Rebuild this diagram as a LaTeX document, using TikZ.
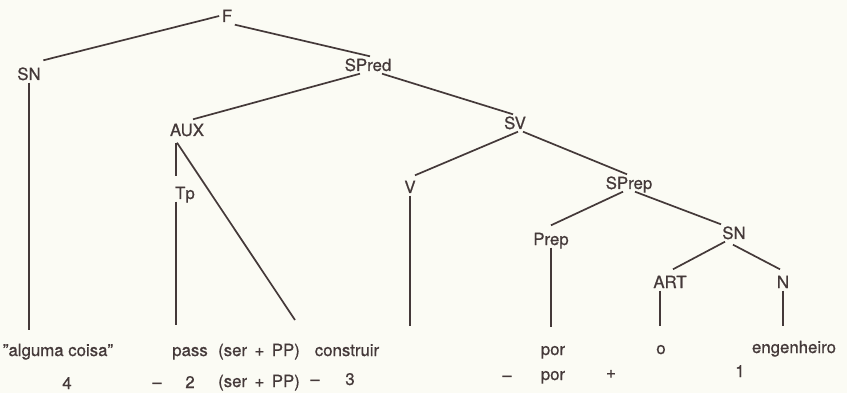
\documentclass[tikz,border=0pt]{standalone}
\usepackage{fontspec}
\setmainfont{TeX Gyre Heros}[FakeBold=0.7]
\definecolor{ink}{HTML}{443939}
\definecolor{paper}{HTML}{FBFBF4}
\begin{document}
\begin{tikzpicture}[x=1pt,y=-1pt,
  font=\fontsize{16.8}{20}\selectfont, text=ink,
  lab/.style={inner sep=2.5pt, text height=12pt, text depth=0pt, anchor=center},
  word/.style={inner sep=0pt, anchor=base},
  edge/.style={draw=ink, line width=1.7pt}]
\fill[paper] (0,0) rectangle (847,393);
\useasboundingbox (0,0) rectangle (847,393);
% category labels
\node[lab] (F) at (227,16) {F};
\node[lab] (SN) at (29,74) {SN};
\node[lab] (SPred) at (368,65) {SPred};
\node[lab] (AUX) at (187,130) {AUX};
\node[lab] (Tp) at (185,193) {Tp};
\node[lab] (SV) at (515,123) {SV};
\node[lab] (V) at (410,187) {V};
\node[lab] (SPrep) at (629,183) {SPrep};
\node[lab] (Prep) at (551,239) {Prep};
\node[lab] (SNb) at (734,233) {SN};
\node[lab] (ART) at (670,282) {ART};
\node[lab] (N) at (783,282) {N};
% free ends of the branches
\coordinate (lSN) at (29,330);
\coordinate (lTp) at (176,325);
\coordinate (lSer) at (295,320);
\coordinate (lV) at (410,326);
\coordinate (lPrep) at (551,327);
\coordinate (lART) at (660,326);
\coordinate (lN) at (783,326);
% branches
\draw[edge] (F.west) -- ([yshift=5pt]SN.north east);
\draw[edge] (F.south east) -- ([xshift=2pt]SPred.north);
\draw[edge] ([xshift=-8pt]SPred.south) -- ([xshift=6pt,yshift=2pt]AUX.north);
\draw[edge] ([xshift=14pt]SPred.south) -- ([xshift=-2pt]SV.north);
\draw[edge] ([xshift=-11pt,yshift=-4pt]AUX.south) -- ([xshift=-9pt,yshift=8pt]Tp.north);
\draw[edge] ([xshift=-10pt,yshift=-4pt]AUX.south) -- (lSer);
\draw[edge] ([xshift=-9pt]Tp.south) -- (lTp);
\draw[edge] (SN.south) -- (lSN);
\draw[edge] ([xshift=3pt]SV.south) -- ([xshift=5pt,yshift=3pt]V.north);
\draw[edge] (V.south) -- (lV);
\draw[edge] ([xshift=8pt]SV.south) -- ([xshift=-2pt]SPrep.north);
\draw[edge] ([xshift=-6pt]SPrep.south) -- ([yshift=5pt]Prep.north);
\draw[edge] ([xshift=6pt]SPrep.south) -- ([xshift=-13pt]SNb.north);
\draw[edge] (Prep.south) -- (lPrep);
\draw[edge] ([xshift=-9pt]SNb.south) -- ([xshift=3pt,yshift=4pt]ART.north);
\draw[edge] ([xshift=-1pt,yshift=-3pt]SNb.south) -- ([xshift=-3pt,yshift=4pt]N.north);
\draw[edge] ([xshift=-10pt]ART.south) -- (lART);
\draw[edge] (N.south) -- (lN);
% first line of the terminal string
\node[word] (w1) at (58,356) {''alguma coisa''};
\node[word] (w2) at (190,356) {pass};
\node[word] (w3) at (259,356) {(ser\, + \,PP)};
\node[word] (w4) at (347,356) {construir};
\node[word] (w5) at (553,355) {por};
\node[word] (w6) at (661,354) {o};
\node[word] (w7) at (794,353) {engenheiro};
% second line
\node[word] (n1) at (67,389) {4};
\node[word] (n2) at (157,388) {\textendash};
\node[word] (n3) at (190,388) {2};
\node[word] (n4) at (259,387) {(ser\, + \,PP)};
\node[word] (n5) at (315,385) {\textendash};
\node[word] (n6) at (350,385) {3};
\node[word] (n7) at (507,381) {\textendash};
\node[word] (n8) at (553,380) {por};
\node[word] (n9) at (611,378) {+};
\node[word] (n10) at (740,377) {1};
\end{tikzpicture}
\end{document}
